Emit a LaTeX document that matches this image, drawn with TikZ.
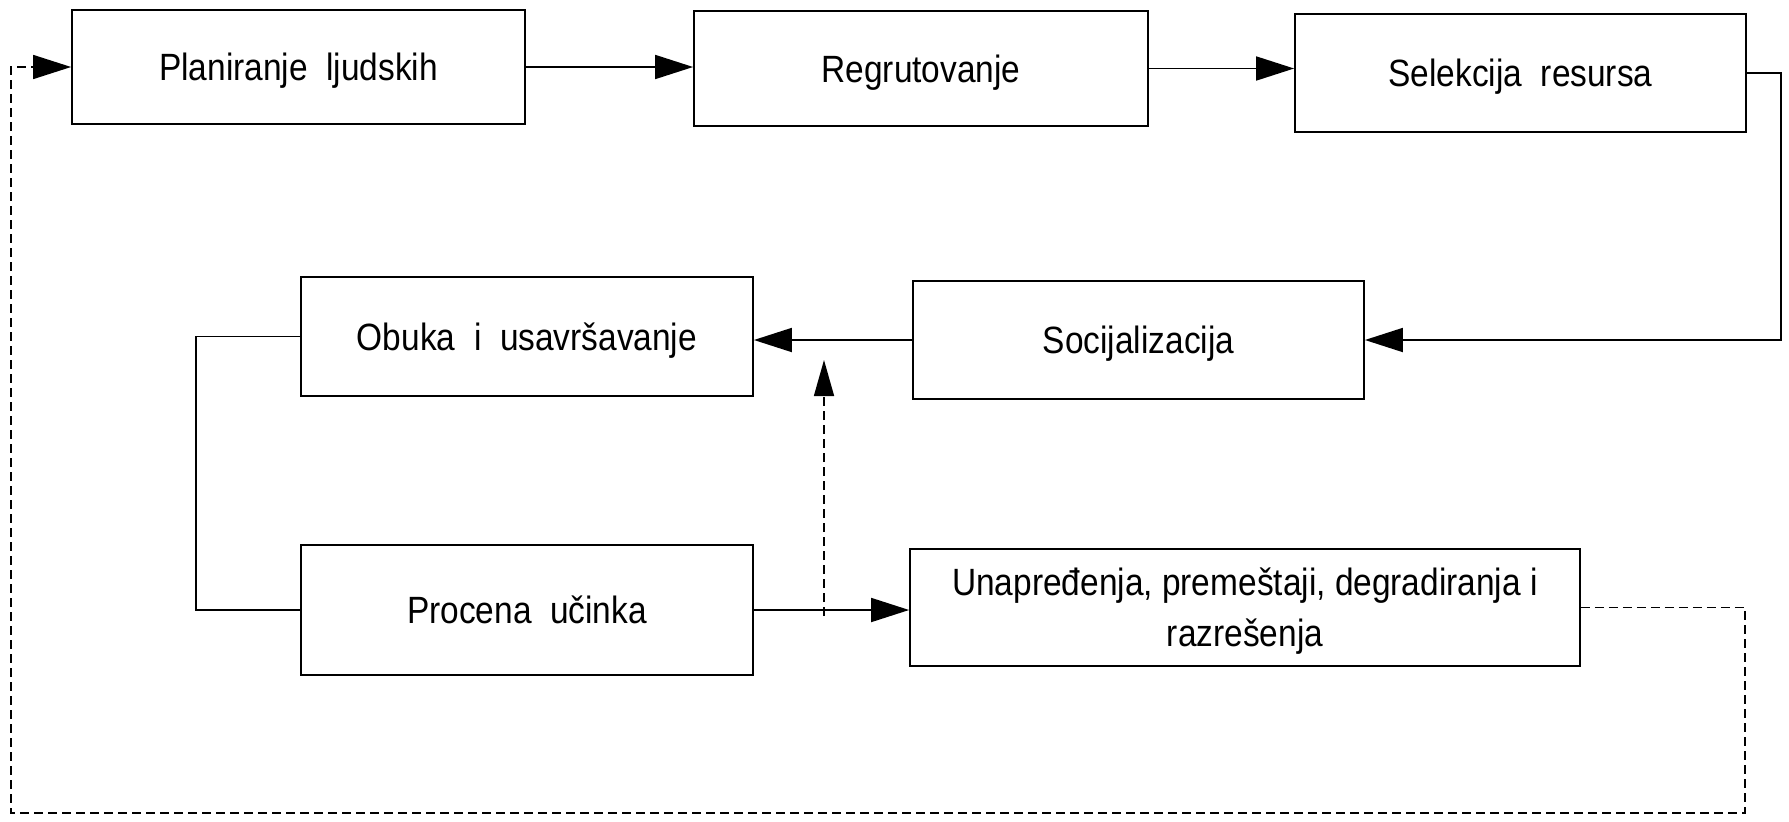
\documentclass[tikz,border=0pt]{standalone}
\usepackage{fontspec}
\setmainfont{Liberation Sans}
\newfontfamily\boxfont[FakeStretch=0.88]{Liberation Sans}
\usetikzlibrary{arrows.meta}
\begin{document}
\begin{tikzpicture}[x=1pt,y=-1pt,
  box/.style={draw, line width=1.8pt, inner sep=0pt, align=center, text depth=0pt,
    font=\boxfont\fontsize{38}{51}\selectfont},
  tip/.style={-{Triangle[length=38pt,width=24pt]}},
  flow/.style={line width=1.8pt, tip},
  plain/.style={line width=1.8pt},
  fb/.style={line width=1.5pt, dash pattern=on 9pt off 5pt}]
\useasboundingbox (0,0) rectangle (1789,822);

\node[box, minimum width=453pt, minimum height=114pt] (b1) at (298.5,67) {Planiranje\ \ ljudskih};
\node[box, minimum width=454pt, minimum height=115pt] (b2) at (921,68.5) {Regrutovanje};
\node[box, minimum width=451pt, minimum height=118pt] (b3) at (1520.5,73) {Selekcija\ \ resursa};
\node[box, minimum width=451pt, minimum height=118pt] (soc) at (1138.5,340) {Socijalizacija};
\node[box, minimum width=452pt, minimum height=119pt] (ob) at (527,336.5) {Obuka\ \ i\ \ usavršavanje};
\node[box, minimum width=452pt, minimum height=130pt] (pr) at (527,610) {Procena\ \ učinka};
\node[box, minimum width=670pt, minimum height=117pt] (un) at (1245,607.5) {Unapređenja, premeštaji, degradiranja i\\razrešenja};

\draw[flow] (b1.east) -- (b1.east -| b2.west);
\draw[flow] (b2.east) -- (b2.east -| b3.west);
\draw[flow] (b3.east) -- ++(34,0) |- (soc.east);
\draw[flow] (soc.west) -- (soc.west -| ob.east);
\draw[plain] (ob.west) -- ++(-104,0) |- (pr.west);
\draw[flow] (pr.east) -- (pr.east -| un.west);

\coordinate (j) at (824,616);
\coordinate (t) at (824,360);
\draw[fb, -{Triangle[length=36pt,width=20pt]}] (j) -- (t);

\coordinate (r) at (1745,813);
\coordinate (l) at (11,813);
\draw[fb, tip] (un.east) -| (r) -- (l) |- (b1.west);
\end{tikzpicture}
\end{document}
